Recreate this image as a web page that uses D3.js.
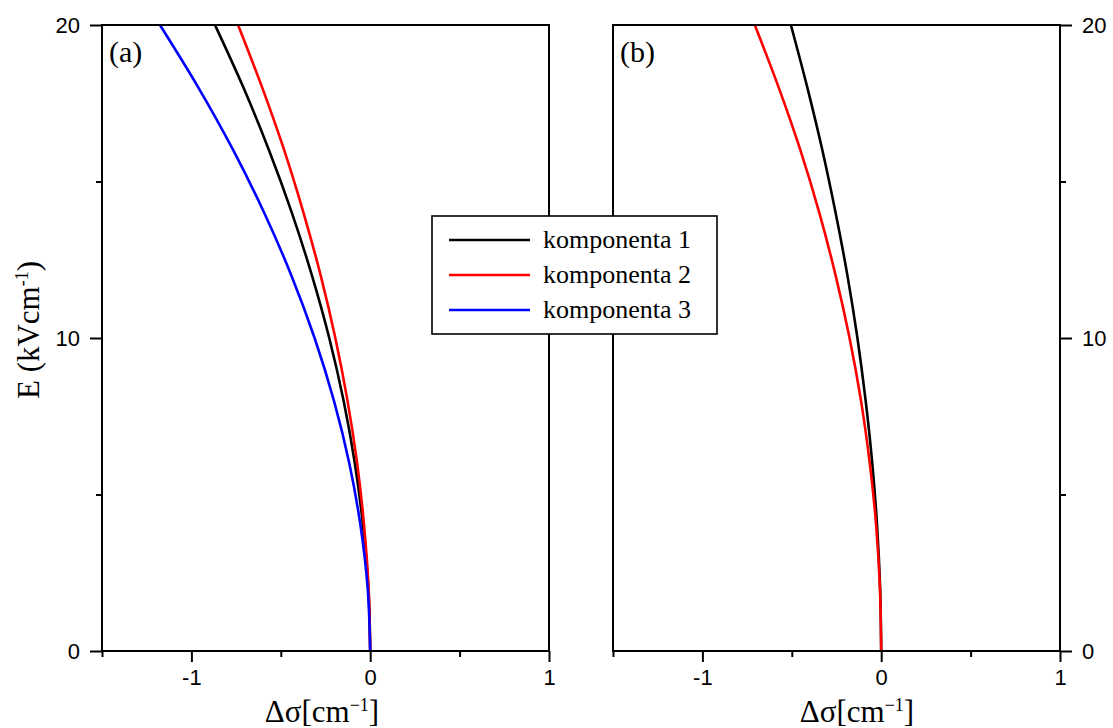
<!DOCTYPE html>
<html>
<head>
<meta charset="utf-8">
<script src="https://cdn.jsdelivr.net/npm/d3@7"></script>
<style>
  html, body { margin: 0; padding: 0; background: #fff; }
  svg { display: block; }
</style>
</head>
<body>
<svg id="chart" width="1113" height="728"></svg>
<script>
// Field strength samples (kV/cm)
const fieldE = [0, 2, 4, 6, 8, 10, 12, 14, 16, 18, 20];

// Panel (a): change of wavenumber for three components (cm^-1)
const aComp1 = [0, -0.010, -0.040, -0.086, -0.149, -0.229, -0.326, -0.438, -0.566, -0.709, -0.868];
const aComp2 = [0, -0.009, -0.034, -0.073, -0.127, -0.195, -0.277, -0.373, -0.481, -0.604, -0.739];
const aComp3 = [0, -0.014, -0.054, -0.117, -0.203, -0.311, -0.441, -0.593, -0.766, -0.961, -1.176];

// Panel (b): two components
const bComp1 = [0, -0.006, -0.023, -0.050, -0.087, -0.133, -0.189, -0.255, -0.329, -0.413, -0.505];
const bComp2 = [0, -0.007, -0.028, -0.064, -0.113, -0.177, -0.255, -0.346, -0.452, -0.573, -0.707];

const legendLabels = ["komponenta 1", "komponenta 2", "komponenta 3"];
const seriesColors = ["#000000", "#ff0000", "#0000ff"];

const xMajorTicks = [-1, 0, 1];
const xMinorTicks = [-1.5, -0.5, 0.5];
const yMajorTicks = [0, 10, 20];
const yMinorTicks = [5, 15];

const svg = d3.select("#chart");
const sansFont = "'Liberation Sans', Arial, sans-serif";
const serifFont = "'Liberation Serif', 'Times New Roman', serif";
const plainNumber = d => String(d);

const plotTop = 25, plotBottom = 651;
const y = d3.scaleLinear().domain([0, 20]).range([plotBottom, plotTop]);

const panels = [
  { left: 102, right: 549, label: "(a)", series: [aComp1, aComp2, aComp3], yAxis: "left", titleX: 322 },
  { left: 613, right: 1060, label: "(b)", series: [bComp1, bComp2], yAxis: "right", titleX: 857 }
];

const makeLine = (x) => d3.line()
  .x(d => x(d[0]))
  .y(d => y(d[1]))
  .curve(d3.curveMonotoneY);

panels.forEach(p => {
  const x = d3.scaleLinear().domain([-1.5, 1]).range([p.left, p.right]);
  const g = svg.append("g");

  // curves
  p.series.forEach((vals, i) => {
    const pts = vals.map((v, k) => [v, fieldE[k]]);
    g.append("path")
      .datum(pts)
      .attr("fill", "none")
      .attr("stroke", seriesColors[i])
      .attr("stroke-width", 2.6)
      .attr("d", makeLine(x));
  });

  // frame
  g.append("rect")
    .attr("x", p.left).attr("y", plotTop)
    .attr("width", p.right - p.left).attr("height", plotBottom - plotTop)
    .attr("fill", "none").attr("stroke", "#000").attr("stroke-width", 2);

  // bottom axis
  const xAxis = d3.axisBottom(x).tickValues(xMajorTicks).tickSize(11).tickPadding(7)
    .tickFormat(plainNumber);
  const xa = g.append("g").attr("transform", `translate(0,${plotBottom})`).call(xAxis);
  xa.select(".domain").remove();
  xa.selectAll("line").attr("stroke-width", 2);
  xa.selectAll("text").attr("font-family", sansFont).attr("font-size", 22).attr("fill", "#000");
  const xm = g.append("g").attr("transform", `translate(0,${plotBottom})`)
    .call(d3.axisBottom(x).tickValues(xMinorTicks).tickSize(6).tickFormat(""));
  xm.select(".domain").remove();
  xm.selectAll("line").attr("stroke-width", 2);

  // vertical axis
  const xPos = p.yAxis === "left" ? p.left : p.right;
  const axisFn = p.yAxis === "left" ? d3.axisLeft : d3.axisRight;
  const ya = g.append("g").attr("transform", `translate(${xPos},0)`)
    .call(axisFn(y).tickValues(yMajorTicks).tickSize(12).tickPadding(10).tickFormat(plainNumber));
  ya.select(".domain").remove();
  ya.selectAll("line").attr("stroke-width", 2);
  ya.selectAll("text").attr("font-family", sansFont).attr("font-size", 22).attr("fill", "#000");
  const ym = g.append("g").attr("transform", `translate(${xPos},0)`)
    .call(axisFn(y).tickValues(yMinorTicks).tickSize(6).tickFormat(""));
  ym.select(".domain").remove();
  ym.selectAll("line").attr("stroke-width", 2);

  // panel label
  g.append("text")
    .attr("x", p.left + 7).attr("y", plotTop + 37)
    .attr("font-family", serifFont).attr("font-size", 30)
    .text(p.label);

  // x title
  const xt = g.append("text")
    .attr("x", p.titleX).attr("y", 722)
    .attr("text-anchor", "middle")
    .attr("font-family", serifFont).attr("font-size", 31);
  xt.append("tspan").text("Δσ[cm");
  xt.append("tspan").attr("dy", -11).attr("font-size", 18).text("−1");
  xt.append("tspan").attr("dy", 11).text("]");
});

// y title
const yt = svg.append("text")
  .attr("transform", "translate(39,330) rotate(-90)")
  .attr("text-anchor", "middle")
  .attr("font-family", serifFont).attr("font-size", 31);
yt.append("tspan").text("E (kVcm");
yt.append("tspan").attr("dy", -11).attr("font-size", 18).text("-1");
yt.append("tspan").attr("dy", 11).text(")");

// legend
const lg = svg.append("g");
lg.append("rect")
  .attr("x", 432).attr("y", 216).attr("width", 285).attr("height", 118)
  .attr("fill", "#fff").attr("stroke", "#000").attr("stroke-width", 1.6);
legendLabels.forEach((lab, i) => {
  const ly = 240 + i * 35;
  lg.append("line")
    .attr("x1", 449).attr("x2", 530).attr("y1", ly).attr("y2", ly)
    .attr("stroke", seriesColors[i]).attr("stroke-width", 2.6);
  lg.append("text")
    .attr("x", 543).attr("y", ly + 8)
    .attr("font-family", serifFont).attr("font-size", 26)
    .text(lab);
});
</script>
</body>
</html>
